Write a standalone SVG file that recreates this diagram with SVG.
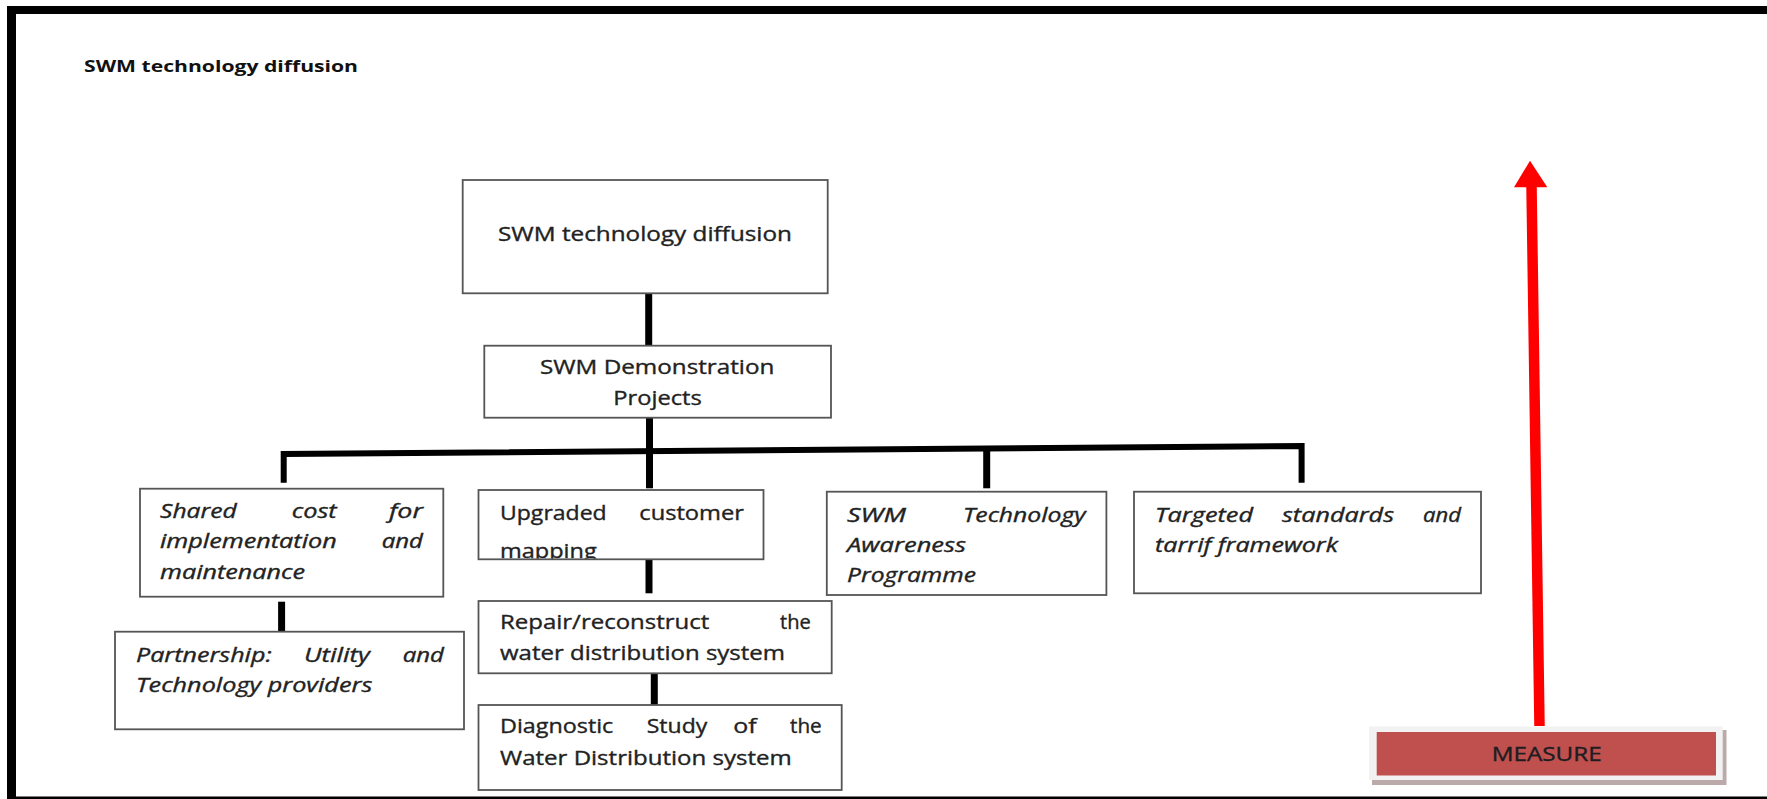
<svg xmlns="http://www.w3.org/2000/svg" width="1767" height="799" viewBox="0 0 1767 799">
  <style>
    .box { fill: #ffffff; stroke: #555555; stroke-width: 1.8; }
    .t { font-family: "Open Sans", "Liberation Sans", sans-serif; font-size: 19.5px; fill: #222222; stroke: #222222; stroke-width: 0.35; }
    .i { font-style: italic; }
    .title { font-family: "Open Sans", "Liberation Sans", sans-serif; font-size: 16px; font-weight: bold; fill: #111111; }
    .conn { stroke: #000000; stroke-width: 7; fill: none; }
    .bar { stroke: #000000; stroke-width: 6; fill: none; stroke-linejoin: miter; }
  </style>
  <defs>
    <clipPath id="clipUpgraded">
      <rect x="478.5" y="490" width="285" height="68.5"/>
    </clipPath>
  </defs>

  <!-- page background and frame -->
  <rect x="0" y="0" width="1767" height="799" fill="#ffffff"/>
  <rect x="7" y="6" width="1760" height="8" fill="#000000"/>
  <rect x="7" y="6" width="9" height="793" fill="#000000"/>
  <rect x="7" y="796.5" width="1760" height="2.5" fill="#000000"/>

  <text class="title" x="84" y="72" textLength="274" lengthAdjust="spacingAndGlyphs">SWM technology diffusion</text>

  <!-- connectors -->
  <g id="connectors">
    <line class="conn" x1="648.7" y1="293" x2="648.7" y2="346"/>
    <line class="conn" x1="649.5" y1="418" x2="649.5" y2="488.3"/>
    <path class="bar" d="M283.7 482.7 L283.7 454 L1301.6 446 L1301.6 482.7"/>
    <line class="conn" x1="986.7" y1="448.5" x2="986.7" y2="488.3"/>
    <line class="conn" x1="281.6" y1="601.7" x2="281.6" y2="632"/>
    <line class="conn" x1="649" y1="559" x2="649" y2="593.3"/>
    <line class="conn" x1="654.3" y1="673.5" x2="654.3" y2="705"/>
  </g>

  <g id="node-top">
    <rect class="box" x="462.7" y="180" width="365" height="113.3"/>
    <text class="t" x="498" y="240.5" textLength="294" lengthAdjust="spacingAndGlyphs">SWM technology diffusion</text>
  </g>

  <g id="node-demo">
    <rect class="box" x="484.3" y="345.7" width="346.7" height="72"/>
    <text class="t" x="540" y="374.3" textLength="234.3" lengthAdjust="spacingAndGlyphs">SWM Demonstration</text>
    <text class="t" x="613.3" y="405" textLength="88.4" lengthAdjust="spacingAndGlyphs">Projects</text>
  </g>

  <g id="node-shared-cost">
    <rect class="box" x="140" y="488.7" width="303.3" height="108"/>
    <text class="t i" x="160" y="518.3" textLength="76.7" lengthAdjust="spacingAndGlyphs">Shared</text>
    <text class="t i" x="291.7" y="518.3" textLength="45" lengthAdjust="spacingAndGlyphs">cost</text>
    <text class="t i" x="389" y="518.3" textLength="34" lengthAdjust="spacingAndGlyphs">for</text>
    <text class="t i" x="160" y="548.3" textLength="176.7" lengthAdjust="spacingAndGlyphs">implementation</text>
    <text class="t i" x="381.7" y="548.3" textLength="41.3" lengthAdjust="spacingAndGlyphs">and</text>
    <text class="t i" x="160" y="578.5" textLength="145" lengthAdjust="spacingAndGlyphs">maintenance</text>
  </g>

  <g id="node-partnership">
    <rect class="box" x="115" y="631.7" width="349" height="97.6"/>
    <text class="t i" x="136" y="661.7" textLength="135.7" lengthAdjust="spacingAndGlyphs">Partnership:</text>
    <text class="t i" x="304" y="661.7" textLength="66" lengthAdjust="spacingAndGlyphs">Utility</text>
    <text class="t i" x="402.7" y="661.7" textLength="41.3" lengthAdjust="spacingAndGlyphs">and</text>
    <text class="t i" x="136" y="691.7" textLength="236.3" lengthAdjust="spacingAndGlyphs">Technology providers</text>
  </g>

  <g id="node-upgraded">
    <rect class="box" x="478.5" y="490" width="285" height="69.3"/>
    <text class="t" x="500" y="520" textLength="106.7" lengthAdjust="spacingAndGlyphs">Upgraded</text>
    <text class="t" x="639.3" y="520" textLength="104.7" lengthAdjust="spacingAndGlyphs">customer</text>
    <text class="t" x="500" y="558" textLength="96.7" lengthAdjust="spacingAndGlyphs" clip-path="url(#clipUpgraded)">mapping</text>
  </g>

  <g id="node-repair">
    <rect class="box" x="478.5" y="601" width="353.2" height="72.3"/>
    <text class="t" x="500" y="628.5" textLength="209.3" lengthAdjust="spacingAndGlyphs">Repair/reconstruct</text>
    <text class="t" x="780" y="628.5" textLength="30.7" lengthAdjust="spacingAndGlyphs">the</text>
    <text class="t" x="500" y="660" textLength="285" lengthAdjust="spacingAndGlyphs">water distribution system</text>
  </g>

  <g id="node-diagnostic">
    <rect class="box" x="478.5" y="705" width="363.2" height="85"/>
    <text class="t" x="500" y="733.3" textLength="113.3" lengthAdjust="spacingAndGlyphs">Diagnostic</text>
    <text class="t" x="646.7" y="733.3" textLength="60.6" lengthAdjust="spacingAndGlyphs">Study</text>
    <text class="t" x="733.3" y="733.3" textLength="23.4" lengthAdjust="spacingAndGlyphs">of</text>
    <text class="t" x="790" y="733.3" textLength="31.7" lengthAdjust="spacingAndGlyphs">the</text>
    <text class="t" x="500" y="765" textLength="291.7" lengthAdjust="spacingAndGlyphs">Water Distribution system</text>
  </g>

  <g id="node-awareness">
    <rect class="box" x="826.8" y="491.7" width="279.6" height="103.3"/>
    <text class="t i" x="847" y="521.7" textLength="59" lengthAdjust="spacingAndGlyphs">SWM</text>
    <text class="t i" x="963" y="521.7" textLength="122.7" lengthAdjust="spacingAndGlyphs">Technology</text>
    <text class="t i" x="847" y="551.7" textLength="119" lengthAdjust="spacingAndGlyphs">Awareness</text>
    <text class="t i" x="847" y="581.7" textLength="129" lengthAdjust="spacingAndGlyphs">Programme</text>
  </g>

  <g id="node-standards">
    <rect class="box" x="1134" y="491.7" width="347" height="101.6"/>
    <text class="t i" x="1155" y="521.7" textLength="98" lengthAdjust="spacingAndGlyphs">Targeted</text>
    <text class="t i" x="1282" y="521.7" textLength="112" lengthAdjust="spacingAndGlyphs">standards</text>
    <text class="t i" x="1423" y="521.7" textLength="38" lengthAdjust="spacingAndGlyphs">and</text>
    <text class="t i" x="1155" y="551.7" textLength="183" lengthAdjust="spacingAndGlyphs">tarrif framework</text>
  </g>

  <!-- upward red arrow above the measure box -->
  <g id="measure-arrow">
    <line x1="1531.5" y1="186" x2="1539.5" y2="726" stroke="#ff0000" stroke-width="10.5"/>
    <polygon points="1530,160.7 1514,187.3 1547.3,187.3" fill="#ff0000"/>
  </g>

  <g id="node-measure">
    <rect x="1372" y="730" width="354.5" height="55" fill="#bcaaaa"/>
    <rect x="1369" y="726.5" width="353.7" height="53.5" fill="#f2f2f2"/>
    <rect x="1376.7" y="732" width="339.3" height="43.5" fill="#c0504d"/>
    <text class="t" x="1491.7" y="760.5" textLength="110" lengthAdjust="spacingAndGlyphs" style="fill:#1c1c22;stroke:#1c1c22">MEASURE</text>
  </g>
</svg>
